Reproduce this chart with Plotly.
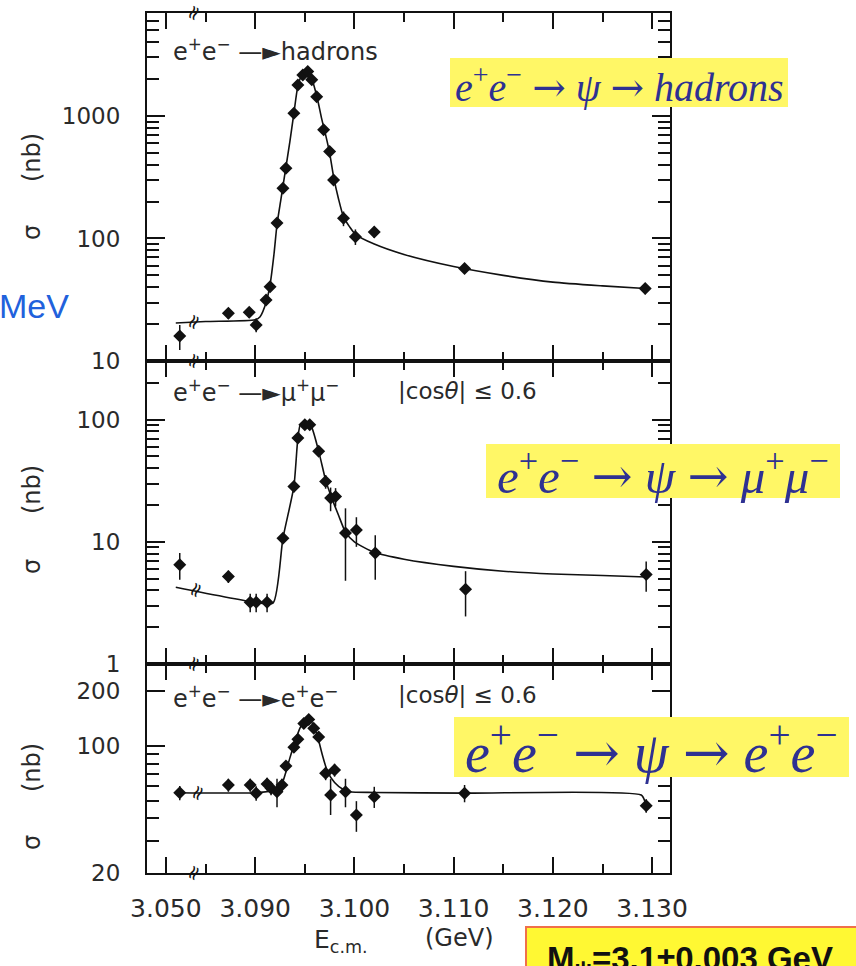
import plotly.graph_objects as go
from plotly.subplots import make_subplots

# ---------------- data ----------------
# e+e- -> hadrons
had_E = [3.0514, 3.0873, 3.0894, 3.0901, 3.0911, 3.0915, 3.0922, 3.0928, 3.0931, 3.0939,
         3.0943, 3.0948, 3.0953, 3.0957, 3.0962, 3.0969, 3.0975, 3.0979, 3.0989, 3.1001,
         3.1020, 3.1111, 3.1293]
had_sigma = [16, 24.5, 25, 19.7, 31.5, 40.4, 134, 257, 374, 1050,
             1790, 2160, 2300, 1970, 1437, 770, 512, 300, 146, 103.5,
             113, 57, 39]
had_err = [3.7, 2.5, 2.5, 2.5, 3, 3.5, 10, 15, 20, 60,
           100, 110, 120, 100, 80, 45, 30, 20, 20, 15,
           12, 5, 4]
had_fit_E = [3.0510, 3.0850, 3.0900, 3.0905, 3.0911, 3.0915, 3.0919, 3.0922, 3.0926, 3.0930,
             3.0935, 3.0939, 3.0943, 3.0947, 3.0951, 3.0955, 3.0959, 3.0963, 3.0967, 3.0971,
             3.0975, 3.0979, 3.0984, 3.0989, 3.0995, 3.1001, 3.1020, 3.1050, 3.1100, 3.1150,
             3.1200, 3.1250, 3.1293]
had_fit_sigma = [20.4, 21.0, 21.7, 23, 30, 42, 75, 130, 210, 340,
                 620, 1050, 1750, 2150, 2330, 2250, 1800, 1350, 950, 700,
                 500, 320, 210, 150, 125, 108, 90, 74, 59, 50,
                 44, 41, 39]

# e+e- -> mu+mu-
mu_E = [3.0514, 3.0873, 3.0895, 3.0901, 3.0912, 3.0928, 3.0939, 3.0943, 3.0950, 3.0955,
        3.0964, 3.0971, 3.0976, 3.0981, 3.0991, 3.1002, 3.1021, 3.1112, 3.1294]
mu_sigma = [6.5, 5.2, 3.2, 3.2, 3.2, 10.7, 28.4, 70.8, 91, 91,
            55, 31.2, 22.8, 23.5, 11.8, 12.5, 8.1, 4.1, 5.4]
mu_err = [1.6, 0.6, 0.55, 0.55, 0.55, 1.0, 3, 5, 5, 5,
          4, 4, 5, 4, 7, 3.4, 3.2, 1.65, 1.5]
mu_fit_E = [3.0510, 3.0900, 3.0918, 3.0928, 3.0939, 3.0943, 3.0946, 3.0955, 3.0964, 3.0971,
            3.0977, 3.0984, 3.0991, 3.1000, 3.1020, 3.1050, 3.1100, 3.1150, 3.1200, 3.1250,
            3.1294]
mu_fit_sigma = [4.25, 3.2, 3.15, 10.7, 28.4, 70, 93, 93, 55, 32,
                23, 16.5, 12, 10, 8.2, 7.2, 6.3, 5.75, 5.45, 5.3,
                5.15]

# e+e- -> e+e-
ee_E = [3.0514, 3.0873, 3.0895, 3.0901, 3.0912, 3.0916, 3.0922, 3.0927, 3.0931, 3.0939,
        3.0943, 3.0949, 3.0954, 3.0959, 3.0964, 3.0971, 3.0976, 3.0980, 3.0991, 3.1002,
        3.1020, 3.1111, 3.1294]
ee_sigma = [55.3, 61, 61, 55, 61.8, 58.5, 56, 61, 77.6, 98.4,
            109, 133, 140, 125, 112, 70.8, 53.7, 73.8, 56, 41.7,
            52.6, 55, 46.9]
ee_err = [5, 5, 5, 5, 5, 5, 10, 5, 5, 6,
          6, 7, 7, 6, 6, 6, 12, 6, 10, 8,
          7, 6, 4]
ee_fit_E = [3.0510, 3.0900, 3.0920, 3.0927, 3.0931, 3.0935, 3.0940, 3.0945, 3.0950, 3.0954,
            3.0958, 3.0963, 3.0968, 3.0973, 3.0980, 3.0988, 3.0995, 3.1020, 3.1111, 3.1289,
            3.1293]
ee_fit_sigma = [55.3, 55.3, 57, 62, 72, 86, 105, 125, 138, 141,
                132, 112, 88, 72, 63, 58, 56, 55.5, 55, 53.7,
                49]

# axis ticks
x_major = [3.050, 3.090, 3.100, 3.110, 3.120, 3.130]
x_major_text = ["3.050", "3.090", "3.100", "3.110", "3.120", "3.130"]
x_minor_start, x_minor_step = 3.085, 0.010   # minor ticks 3.085, 3.095, ... 3.125

y1_major = [10, 100, 1000]
y2_major = [1, 10, 100]
y3_major = [20, 100, 200]

# ---------------- broken x-axis mapping ----------------
BREAK_SHIFT = 0.031  # points below the axis break are shifted next to it


def disp(values):
    return [v + BREAK_SHIFT if v < 3.07 else v for v in values]


# ---------------- figure ----------------
W, H = 856, 966
L, R, T, B = 147, 186, 13, 93
PW, PH = W - L - R, H - T - B


def xp(px):
    return (px - L) / PW


def yp(py):
    return (H - B - py) / PH


fig = make_subplots(rows=3, cols=1, shared_xaxes=True, vertical_spacing=0,
                    row_heights=[348 / 860, 303 / 860, 209 / 860])

panels = [
    (1, had_E, had_sigma, had_err, had_fit_E, had_fit_sigma),
    (2, mu_E, mu_sigma, mu_err, mu_fit_E, mu_fit_sigma),
    (3, ee_E, ee_sigma, ee_err, ee_fit_E, ee_fit_sigma),
]
for row, E, s, err, fE, fs in panels:
    fig.add_trace(go.Scatter(x=disp(fE), y=fs, mode="lines",
                             line=dict(color="#111111", width=1.6, shape="spline", smoothing=0.6),
                             hoverinfo="skip"), row=row, col=1)
    fig.add_trace(go.Scatter(x=disp(E), y=s, mode="markers",
                             marker=dict(symbol="diamond", size=10, color="#111111"),
                             error_y=dict(type="data", array=err, visible=True,
                                          color="#111111", thickness=1.5, width=0)),
                  row=row, col=1)

font_main = dict(family="DejaVu Sans", size=23, color="#2a2a2a")

for row in (1, 2, 3):
    fig.update_xaxes(
        range=[3.0791, 3.1318], tickmode="array", tickvals=disp(x_major), ticktext=x_major_text,
        ticks="inside", ticklen=16, tickwidth=1.6, tickcolor="#111111",
        minor=dict(tick0=x_minor_start, dtick=x_minor_step, ticks="inside", ticklen=9,
                   tickwidth=1.6, tickcolor="#111111", showgrid=False),
        showline=True, linecolor="#111111", linewidth=2, mirror="ticks",
        showgrid=False, zeroline=False, showticklabels=(row == 3),
        tickfont=dict(family="DejaVu Sans", size=25, color="#2a2a2a"),
        ticklabelstandoff=12,
        row=row, col=1)

y_specs = [
    (1, [1, 3.84], y1_major),
    (2, [0, 2.48], y2_major),
    (3, [1.30103, 2.451], y3_major),
]
for row, rng, maj in y_specs:
    fig.update_yaxes(
        type="log", range=rng, tickmode="array", tickvals=maj,
        ticktext=[str(v) for v in maj],
        ticks="inside", ticklen=18, tickwidth=1.6, tickcolor="#111111",
        minor=dict(dtick="D1", ticks="inside", ticklen=12, tickwidth=1.6,
                   tickcolor="#111111", showgrid=False),
        showline=True, linecolor="#111111", linewidth=2, mirror="ticks",
        showgrid=False, zeroline=False, tickfont=font_main, ticklabelstandoff=20,
        row=row, col=1)

ann = []
shapes = []


def text(px, py, t, size=23, xanchor="left", yanchor="middle", color="#2a2a2a",
         family="DejaVu Sans", angle=0):
    ann.append(dict(x=xp(px), y=yp(py), xref="paper", yref="paper", text=t, showarrow=False,
                    xanchor=xanchor, yanchor=yanchor, textangle=angle,
                    font=dict(family=family, size=size, color=color)))


# panel labels
text(171, 50, "e<sup>+</sup>e<sup>−</sup> —►hadrons", size=24)
text(171, 391, "e<sup>+</sup>e<sup>−</sup> —►μ<sup>+</sup>μ<sup>−</sup>", size=24)
text(396, 391, "|cos<i>θ</i>| ≤ 0.6")
text(171, 697, "e<sup>+</sup>e<sup>−</sup> —►e<sup>+</sup>e<sup>−</sup>", size=24)
text(396, 695, "|cos<i>θ</i>| ≤ 0.6")

# y-axis titles
for sy, nby in [(233, 158), (567, 490), (843, 768)]:
    text(32, sy, "σ", xanchor="center", angle=-90, size=24)
    text(32, nby, "(nb)", xanchor="center", angle=-90, size=24)

# x-axis title
text(312, 941, "E<sub>c.m.</sub>", size=25)
text(423, 938, "(GeV)", size=24)

# break marks on the axis lines and on the fitted curves
for bx, by in [(193, 13), (193, 361), (193, 664), (193, 873),
               (193, 322), (195, 590), (197, 793)]:
    text(bx, by, "≈", size=20, xanchor="center", angle=-65, color="#111111")

# MeV fragment
text(-3, 306, "MeV", size=34, color="#2161dc", family="Liberation Sans")

# yellow highlight boxes
blue = "#2e3192"
arr = "<span style='font-family:DejaVu Serif'>→</span>"
boxes = [
    (450, 58, 788, 107,
     f"<i>e</i><sup>+</sup><i>e</i><sup>−</sup> {arr} <i>ψ</i> {arr} <i>hadrons</i>", 40),
    (486, 444, 840, 498,
     f"<i>e</i><sup>+</sup><i>e</i><sup>−</sup> {arr} <i>ψ</i> {arr} <i>μ</i><sup>+</sup><i>μ</i><sup>−</sup>", 49),
    (454, 717, 849, 777,
     f"<i>e</i><sup>+</sup><i>e</i><sup>−</sup> {arr} <i>ψ</i> {arr} <i>e</i><sup>+</sup><i>e</i><sup>−</sup>", 56),
]
for x0, y0, x1, y1, t, sz in boxes:
    shapes.append(dict(type="rect", xref="paper", yref="paper", x0=xp(x0), x1=xp(x1),
                       y0=yp(y1), y1=yp(y0), fillcolor="#fff766", line=dict(width=0),
                       layer="above"))
    text((x0 + x1) / 2, (y0 + y1) / 2 + 2, t, size=sz, xanchor="center", color=blue,
         family="Liberation Serif")

# bottom-right mass box
shapes.append(dict(type="rect", xref="paper", yref="paper", x0=xp(526), x1=xp(880),
                   y0=yp(990), y1=yp(927), fillcolor="#fff833",
                   line=dict(color="#f0704a", width=2), layer="above"))
text(545, 938, "<b>M<sub>ψ</sub>=3.1±0.003 GeV</b>", size=33, yanchor="top",
     color="#111111", family="Liberation Sans")

fig.update_layout(width=W, height=H, margin=dict(l=L, r=R, t=T, b=B),
                  plot_bgcolor="white", paper_bgcolor="white", showlegend=False,
                  annotations=ann, shapes=shapes)

fig.write_html("out.html", config={"displayModeBar": False},
               post_script="document.body.style.margin='0px';document.body.style.overflow='hidden';")
